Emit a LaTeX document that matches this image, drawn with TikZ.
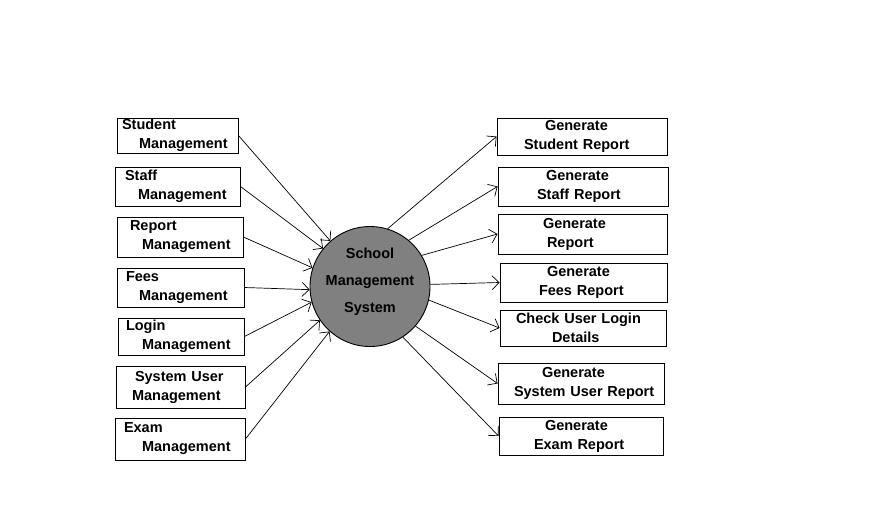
\documentclass[tikz,border=0pt]{standalone}
\usepackage{fontspec}
\setmainfont{Liberation Sans}
\usetikzlibrary{arrows.meta}

\begin{document}
\begin{tikzpicture}[->,>={Straight Barb[length=7pt,width=14pt]},x=1pt,y=-1pt,
                    line width=0.7pt,
                    every node/.style={font=\fontsize{14.5}{19}\selectfont\bfseries},
                    box/.style 2 args={draw,rectangle,line width=0.9pt,inner sep=0pt,
                                       align=left,text width=#1,minimum height=#2}]
  \useasboundingbox (0,0) rectangle (875,523);

  \node[circle,draw,line width=0.9pt,fill=gray,minimum size=120pt,inner sep=0pt]
        (sms) at (370,286.5) {};
  \node[align=center,font=\fontsize{14.5}{27}\selectfont\bfseries]
        (smstext) at ([yshift=5pt]sms.center) {School\\Management\\System};

  % inputs
  \node[box={121pt}{35pt}] (stud)  at (177.5,135.5) {\hspace*{5pt}Student\\\hspace*{22pt}Management};
  \node[box={125pt}{39pt}] (staff) at (177.5,186.5) {\hspace*{10pt}Staff\\\hspace*{23pt}Management};
  \node[box={126pt}{40pt}] (rep)   at (180,237)     {\hspace*{13pt}Report\\\hspace*{25pt}Management};
  \node[box={127pt}{39pt}] (fees)  at (180.5,287.5) {\hspace*{9pt}Fees\\\hspace*{22pt}Management};
  \node[box={126pt}{37pt}] (login) at (181,336.5)   {\hspace*{8pt}Login\\\hspace*{24pt}Management};
  \node[box={129pt}{42pt}] (sysu)  at (180.5,387)   {\hspace*{19pt}System User\\\hspace*{16pt}Management};
  \node[box={130pt}{42pt}] (exam)  at (180,439)     {\hspace*{9pt}Exam\\\hspace*{27pt}Management};

  % outputs
  \node[box={170pt}{37pt}] (gstud)  at (582,136.5)   {\hspace*{48pt}Generate\\\hspace*{27pt}Student Report};
  \node[box={170pt}{39pt}] (gstaff) at (583,186.5)   {\hspace*{48pt}Generate\\\hspace*{39pt}Staff Report};
  \node[box={169pt}{40pt}] (grep)   at (582.5,234)   {\hspace*{45pt}Generate\\\hspace*{49pt}Report};
  \node[box={167pt}{39pt}] (gfees)  at (583.5,282.5) {\hspace*{47pt}Generate\\\hspace*{39pt}Fees Report};
  \node[box={166pt}{36pt}] (check)  at (583,328)     {\hspace*{16pt}Check User Login\\\hspace*{52pt}Details};
  \node[box={166pt}{41pt}] (gsysu)  at (581,383.5)   {\hspace*{44pt}Generate\\\hspace*{16pt}System User Report};
  \node[box={164pt}{38pt}] (gexam)  at (581,436)     {\hspace*{46pt}Generate\\\hspace*{35pt}Exam Report};

  \path (stud.east)  edge (sms.131)
        (staff.east) edge (sms.141)
        (rep.east)   edge (sms.162)
        (fees.east)  edge (sms.183)
        (login.east) edge (sms.195)
        (sysu.east)  edge (sms.214)
        (exam.east)  edge (sms.228);
  \path (sms.73)  edge (gstud.west)
        (sms.50)  edge (gstaff.west)
        (sms.31)  edge (grep.west)
        (sms.2)   edge (gfees.west)
        (sms.-13) edge (check.west)
        (sms.-41) edge (gsysu.west)
        (sms.-57) edge (gexam.west);
\end{tikzpicture}
\end{document}
